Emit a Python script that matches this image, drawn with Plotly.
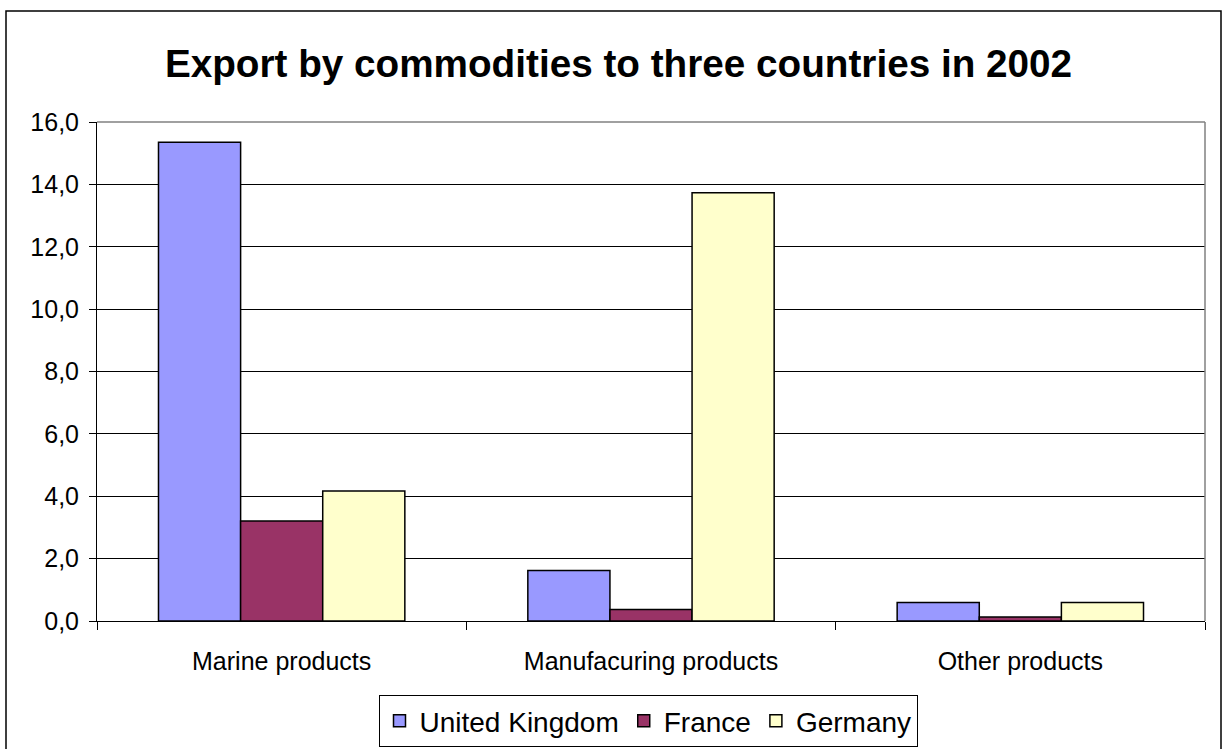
import plotly.graph_objects as go

categories = ['Marine products', 'Manufacuring products', 'Other products']
united_kingdom = [15.35, 1.62, 0.59]
france = [3.21, 0.37, 0.13]
germany = [4.17, 13.73, 0.59]

FONT = 'Liberation Sans, Arial, sans-serif'

fig = go.Figure()

series = [
    ('United Kingdom', united_kingdom, '#9999FF'),
    ('France', france, '#993366'),
    ('Germany', germany, '#FFFFCC'),
]
for name, vals, color in series:
    fig.add_trace(go.Bar(
        x=categories,
        y=vals,
        name=name,
        marker=dict(color=color, line=dict(color='black', width=1.5)),
    ))

fig.update_layout(
    width=1226,
    height=749,
    barmode='group',
    bargap=0.333,
    bargroupgap=0,
    paper_bgcolor='white',
    plot_bgcolor='white',
    separators=',.',
    font=dict(family=FONT, size=25, color='black'),
    margin=dict(l=97, r=21, t=122, b=128),
    title=dict(
        text='<b>Export by commodities to three countries in 2002</b>',
        font=dict(family=FONT, size=38.7, color='black'),
        x=618.5 / 1226, xanchor='center',
        y=1 - 63 / 749, yanchor='middle',
    ),
    xaxis=dict(
        type='category',
        tickson='boundaries',
        ticks='outside',
        ticklen=8,
        tickcolor='black',
        showline=True,
        linecolor='black',
        linewidth=1,
        showgrid=False,
        tickfont=dict(size=25),
        ticklabelstandoff=18,
    ),
    yaxis=dict(
        range=[0, 16],
        dtick=2,
        tickformat='.1f',
        ticks='outside',
        ticklen=7,
        tickcolor='black',
        showline=True,
        linecolor='black',
        linewidth=1,
        showgrid=True,
        gridcolor='black',
        gridwidth=1,
        zeroline=False,
        tickfont=dict(size=25),
        ticklabelstandoff=5,
    ),
    legend=dict(
        orientation='h',
        x=648 / 1226, xanchor='center', xref='container',
        y=(749 - 695) / 749, yanchor='top', yref='container',
        bordercolor='black',
        borderwidth=1,
        bgcolor='white',
        font=dict(family=FONT, size=28),
        traceorder='normal',
        itemwidth=30,
    ),
    showlegend=True,
)

# plot area border (top and right in gray)
fig.add_shape(type='line', xref='paper', yref='paper', x0=0, x1=1, y0=1, y1=1,
              line=dict(color='#808080', width=1.5), layer='above')
fig.add_shape(type='line', xref='paper', yref='paper', x0=1, x1=1, y0=0, y1=1,
              line=dict(color='#808080', width=1.5), layer='above')

# outer chart frame
fig.add_shape(type='rect', xref='paper', yref='paper',
              x0=(6 - 97) / 1108, x1=(1221 - 97) / 1108,
              y0=(621 - 800) / 499, y1=(621 - 11) / 499,
              line=dict(color='black', width=1.5), layer='below')

fig.write_html(
    "out.html",
    config={'displayModeBar': False},
    post_script="document.body.style.margin='0';document.body.style.overflow='hidden';",
)
